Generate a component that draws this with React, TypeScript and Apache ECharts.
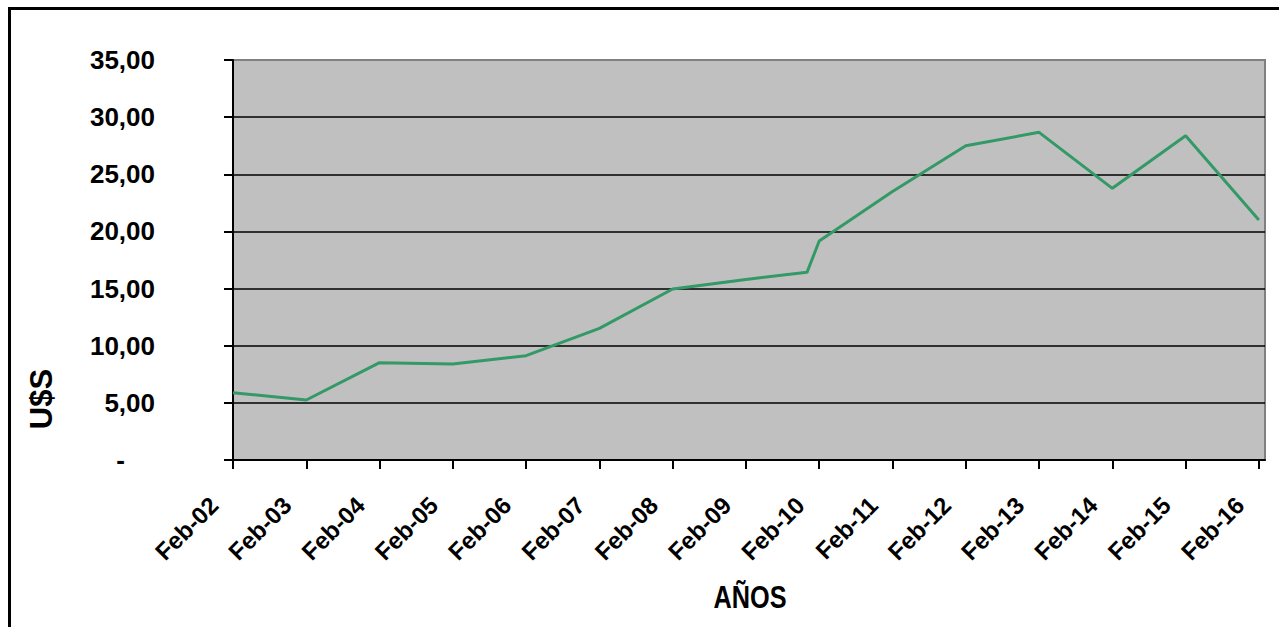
import React, { useEffect, useRef } from "react";
import * as echarts from "echarts";

// x positions are months counted from Feb-02
const xLabels = ["Feb-02","Feb-03","Feb-04","Feb-05","Feb-06","Feb-07","Feb-08","Feb-09","Feb-10","Feb-11","Feb-12","Feb-13","Feb-14","Feb-15","Feb-16"];
const pointMonths = [0, 12, 24, 36, 48, 60, 72, 84, 94, 96, 108, 120, 132, 144, 156, 168];
const prices = [5.89, 5.25, 8.52, 8.4, 9.13, 11.52, 14.96, 15.8, 16.42, 19.16, 23.5, 27.5, 28.67, 23.77, 28.38, 21.0];
const yTicks = [0, 5, 10, 15, 20, 25, 30, 35];

export default function App() {
  const ref = useRef<HTMLDivElement>(null);
  useEffect(() => {
    if (!ref.current) return;
    const chart = echarts.init(ref.current, null, { renderer: "svg" });
    const tickMonths = xLabels.map((_, i) => i * 12);
    const font = "'Liberation Sans', Arial, sans-serif";
    chart.setOption({
      animation: false,
      backgroundColor: "#ffffff",
      grid: {
        left: 233, top: 60, right: 14, bottom: 167,
        show: true, backgroundColor: "#C0C0C0", borderColor: "#808080", borderWidth: 2,
        containLabel: false, outerBoundsMode: "none",
      },
      xAxis: {
        type: "value", min: 0, max: 169, interval: 12,
        axisLine: { show: true, lineStyle: { color: "#000", width: 2 } },
        axisTick: { show: true, length: 9, lineStyle: { color: "#000", width: 2 }, customValues: tickMonths },
        splitLine: { show: false },
        axisLabel: {
          customValues: tickMonths,
          rotate: 45, margin: 22, padding: [0, 27, 0, 0],
          color: "#000", fontSize: 24, fontWeight: "bold", fontFamily: font,
          formatter: (v: number) => xLabels[Math.round(v / 12)] ?? "",
        },
      },
      yAxis: {
        type: "value", min: yTicks[0], max: yTicks[yTicks.length - 1], interval: 5,
        axisLine: { show: true, lineStyle: { color: "#000", width: 2 } },
        axisTick: { show: true, length: 9, lineStyle: { color: "#000", width: 2 } },
        splitLine: { show: true, showMaxLine: false, lineStyle: { color: "#000", width: 1.5 } },
        axisLabel: {
          margin: 78, color: "#000", fontSize: 26, fontWeight: "bold", fontFamily: font,
          formatter: (v: number) => (v === 0 ? "{z|-}" : v.toFixed(2).replace(".", ",")),
          rich: { z: { fontSize: 26, fontWeight: "bold", fontFamily: font, color: "#000", padding: [0, 30, 0, 0] } },
        },
      },
      series: [
        {
          type: "line",
          data: pointMonths.map((m, i) => [m, prices[i]]),
          symbol: "none",
          lineStyle: { color: "#339966", width: 3 },
        },
      ],
      graphic: [
        { type: "rect", shape: { x: 9.5, y: 8.5, width: 2000, height: 2000 }, style: { fill: "none", stroke: "#000", lineWidth: 3 }, silent: true },
        { type: "text", x: 41, y: 399, rotation: Math.PI / 2, style: { text: "U$S", fontSize: 31, fontWeight: "bold", fontFamily: font, fill: "#000", align: "center", verticalAlign: "middle" } },
        { type: "text", x: 750, y: 597, scaleX: 0.79, style: { text: "AÑOS", fontSize: 32, fontWeight: "bold", fontFamily: font, fill: "#000", align: "center", verticalAlign: "middle" } },
      ],
    });
    return () => chart.dispose();
  }, []);
  return <div ref={ref} style={{ position: "absolute", left: 0, top: 0, width: 1279, height: 627 }} />;
}
